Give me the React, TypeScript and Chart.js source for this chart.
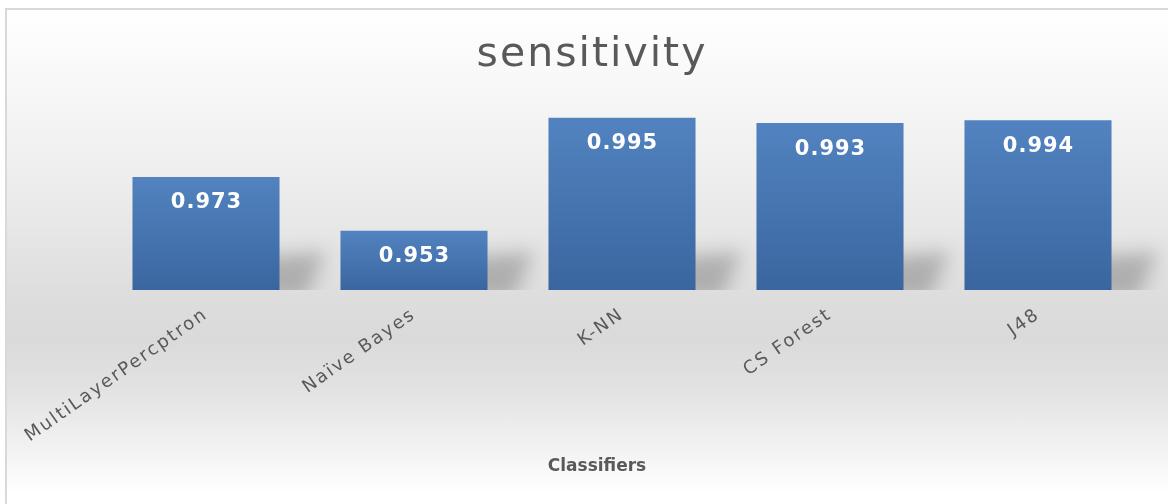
import React, { useEffect, useRef } from "react";
import { Chart, registerables } from "chart.js";

Chart.register(...registerables);

// Classifier names along the x axis
const categories = ["MultiLayerPercptron", "Naïve Bayes", "K-NN", "CS Forest", "J48"];
// Sensitivity score per classifier
const sensitivity = [0.973, 0.953, 0.995, 0.993, 0.994];
// Value range of the (hidden) y axis
const yMin = 0.931;
const yMax = 1.0;

const TEXT_GRAY = "#595959";
const FONT = "'DejaVu Sans', sans-serif";

// Slightly wider text spacing for everything Chart.js draws
const spacingPlugin = {
  id: "spacing",
  beforeLayout(chart: any) {
    chart.ctx.letterSpacing = "2px";
  },
  beforeDraw(chart: any) {
    chart.ctx.letterSpacing = "2px";
  },
};

// Soft floor shadow cast behind and to the right of every bar
const shadowPlugin = {
  id: "barShadow",
  beforeDatasetsDraw(chart: any) {
    const { ctx } = chart;
    const meta = chart.getDatasetMeta(0);
    const base = chart.scales.y.getPixelForValue(yMin);
    const far = 5000;
    meta.data.forEach((bar: any) => {
      const x0 = bar.x - bar.width / 2;
      const x1 = bar.x + bar.width / 2;
      ctx.save();
      ctx.beginPath();
      ctx.rect(0, 0, chart.width, base);
      ctx.clip();
      // shape drawn off to the left; only its blurred shadow lands on the chart
      ctx.shadowColor = "rgba(70,70,70,0.32)";
      ctx.shadowBlur = 18;
      ctx.shadowOffsetX = far;
      ctx.shadowOffsetY = 0;
      ctx.fillStyle = "#000";
      ctx.beginPath();
      ctx.moveTo(x0 + 10 - far, base + 8);
      ctx.lineTo(x1 + 26 - far, base + 8);
      ctx.lineTo(x1 + 46 - far, base - 38);
      ctx.lineTo(x1 - 10 - far, base - 34);
      ctx.closePath();
      ctx.fill();
      ctx.restore();
    });
  },
};

// Value labels inside the bars and the x axis title
const labelPlugin = {
  id: "valueLabels",
  afterDatasetsDraw(chart: any) {
    const { ctx } = chart;
    const meta = chart.getDatasetMeta(0);
    ctx.save();
    ctx.letterSpacing = "1px";
    ctx.font = `bold 21px ${FONT}`;
    ctx.fillStyle = "#ffffff";
    ctx.textAlign = "center";
    ctx.textBaseline = "middle";
    meta.data.forEach((bar: any, i: number) => {
      ctx.fillText(sensitivity[i].toFixed(3), bar.x + 0.5, bar.y + 26);
    });
    ctx.restore();
  },
  afterDraw(chart: any) {
    const { ctx, chartArea } = chart;
    ctx.save();
    ctx.letterSpacing = "0px";
    ctx.font = `bold 17px ${FONT}`;
    ctx.fillStyle = TEXT_GRAY;
    ctx.textAlign = "center";
    ctx.textBaseline = "middle";
    const cx = (chartArea.left + chartArea.right) / 2 - 25;
    ctx.fillText("Classifiers", cx, chart.height - 37);
    ctx.restore();
  },
};

export default function App() {
  const canvasRef = useRef<HTMLCanvasElement | null>(null);

  useEffect(() => {
    const canvas = canvasRef.current;
    if (!canvas) return;
    const chart = new Chart(canvas, {
      type: "bar",
      data: {
        labels: categories,
        datasets: [
          {
            label: "sensitivity",
            data: sensitivity,
            backgroundColor: (c: any) => {
              const ch = c.chart;
              if (c.type !== "data" || !ch.chartArea || !ch.scales.y) return "#4a7ab6";
              const top = ch.scales.y.getPixelForValue(c.raw);
              const bottom = ch.scales.y.getPixelForValue(yMin);
              const g = ch.ctx.createLinearGradient(0, top, 0, bottom);
              g.addColorStop(0, "#5283c0");
              g.addColorStop(1, "#3a669f");
              return g;
            },
            borderWidth: 0,
            categoryPercentage: 0.707,
            barPercentage: 1,
          },
        ],
      },
      options: {
        responsive: false,
        animation: false,
        devicePixelRatio: 1,
        layout: { padding: { left: 42, right: 26, top: 0, bottom: 0 } },
        plugins: {
          legend: { display: false },
          tooltip: { enabled: false },
          title: {
            display: true,
            text: "sensitivity",
            color: TEXT_GRAY,
            font: { family: FONT, size: 41, weight: "normal" },
            padding: { top: 31, bottom: 24 },
          },
        },
        scales: {
          x: {
            grid: { display: false },
            border: { display: false },
            ticks: {
              autoSkip: false,
              minRotation: 35,
              maxRotation: 35,
              color: TEXT_GRAY,
              font: { family: FONT, size: 18 },
              padding: 6,
            },
            afterFit(scale: any) {
              scale.height = 214;
            },
          },
          y: {
            display: true,
            min: yMin,
            max: yMax,
            grid: { display: false },
            border: { display: false },
            ticks: { display: false },
            afterFit(scale: any) {
              scale.width = 60;
            },
          },
        },
      },
      plugins: [spacingPlugin, shadowPlugin, labelPlugin],
    } as any);
    return () => chart.destroy();
  }, []);

  return (
    <div
      style={{
        position: "fixed",
        left: 0,
        top: 0,
        width: 1168,
        height: 504,
        background: "#ffffff",
        overflow: "hidden",
      }}
    >
      <div
        style={{
          position: "absolute",
          left: 5,
          top: 8,
          right: -4,
          bottom: -4,
          borderLeft: "2px solid #d9d9d9",
          borderTop: "2px solid #d9d9d9",
          background:
            "linear-gradient(to bottom, #ffffff 0%, #f6f6f6 18%, #ebebeb 38%, #dedede 56%, #dadada 66%, #e2e2e2 76%, #f2f2f2 88%, #ffffff 97%)",
        }}
      />
      <canvas
        ref={canvasRef}
        width={1168}
        height={504}
        style={{ position: "absolute", left: 0, top: 0, width: 1168, height: 504 }}
      />
    </div>
  );
}
